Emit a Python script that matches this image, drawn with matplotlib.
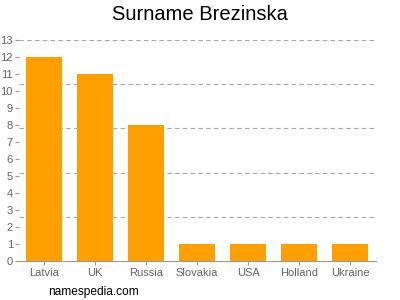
import matplotlib
matplotlib.use('Agg')
from matplotlib import pyplot as plt
import numpy as np

plt.rcParams['font.family'] = ['Liberation Sans', 'DejaVu Sans']

countries = ['Latvia', 'UK', 'Russia', 'Slovakia', 'USA', 'Holland', 'Ukraine']
counts = [12, 11, 8, 1, 1, 1, 1]
y_ticks = list(range(0, 14))
grid_levels = [2.6, 5.2, 7.8, 10.4, 13]

fig = plt.figure(figsize=(4, 3), dpi=100)
ax = fig.add_axes([18.5 / 400, 39 / 300, 357 / 400, 221 / 300])

x = np.arange(len(countries))
ax.bar(x, counts, width=0.69, color='#ffa000', zorder=2)

for g in grid_levels:
    ax.axhline(g, color='#aaaaaa', lw=0.8, ls=(0, (4, 3)), zorder=1)

ax.set_xlim(-0.5, len(countries) - 0.5)
ax.set_ylim(0, 13)
ax.set_yticks(y_ticks)
ax.set_xticks(x)
ax.set_xticklabels(countries)
ax.tick_params(axis='both', colors='#999999', labelcolor='#666666', labelsize=8, length=3, width=0.8)
ax.tick_params(axis='y', length=3, pad=1)
ax.tick_params(axis='x', pad=2)

for s in ['top', 'right', 'left']:
    ax.spines[s].set_visible(False)
ax.spines['bottom'].set_color('#999999')

fig.text(0.5, 0.95, 'Surname Brezinska', ha='center', va='center', fontsize=14.5, color='black')
fig.text(48 / 400, 1 - 292 / 300, 'namespedia.com', ha='left', va='center', fontsize=8.6, color='black')

fig.savefig('out.png', dpi=100)
